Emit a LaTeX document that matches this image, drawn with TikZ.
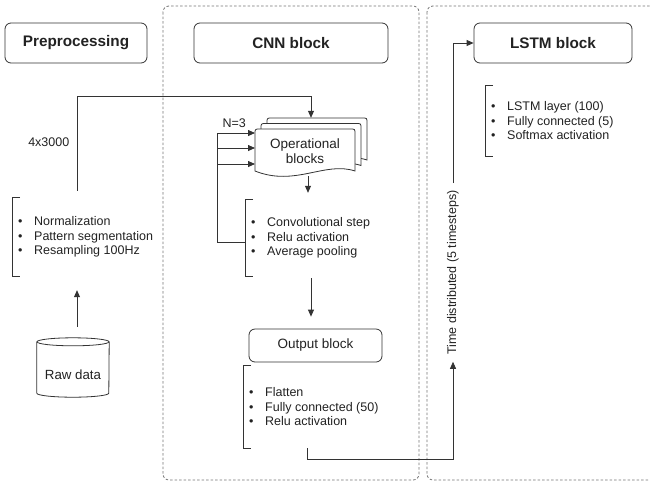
\documentclass[tikz,border=0pt]{standalone}
\usepackage{fontspec}
\setmainfont{Liberation Sans}
\usepackage{tikz}
\usetikzlibrary{arrows.meta,positioning,calc}
\definecolor{darkline}{RGB}{51,51,51}
\definecolor{groupgray}{RGB}{115,115,115}
\definecolor{inkgray}{RGB}{34,34,34}
\newcommand{\itm}[1]{\makebox[16pt][l]{\textbullet}#1}
\newcommand{\listbracket}[1]{\draw[darkline, line width=0.8pt] ([xshift=8pt]#1.north west) -- (#1.north west) -- (#1.south west) -- ([xshift=8pt]#1.south west);}

\begin{document}
\begin{tikzpicture}[x=1pt, y=-1pt,
        header/.style={rectangle, rounded corners=6pt, draw=darkline, line width=0.8pt, minimum height=40pt, text=inkgray, font=\fontsize{15.3}{18}\selectfont\bfseries},
        block/.style={rectangle, rounded corners=6pt, draw=darkline, line width=0.8pt, text=inkgray, font=\fontsize{13.5}{15}\selectfont},
        itemlist/.style={anchor=west, align=left, inner xsep=6pt, inner ysep=0pt, text=inkgray, font=\fontsize{12.5}{14.5}\selectfont},
        sheet/.style={draw=darkline, line width=0.8pt, fill=white},
        drum/.style={draw=darkline, line width=0.8pt},
        group/.style={draw=groupgray, dash pattern=on 2.5pt off 2pt, line width=0.8pt, rounded corners=6pt},
        lbl/.style={text=inkgray, font=\fontsize{12.5}{15}\selectfont},
        arrow/.style={-{Triangle[length=7pt,width=6pt]}, draw=darkline, line width=0.8pt}]

        \useasboundingbox (0,0) rectangle (650,483);

        % Groups
        \draw[group] (163,6) rectangle (419,480);
        \draw[group] (427,6) rectangle (672,480);

        % Nodes
        \node[header, minimum width=142] (pre) at (76,43) {Preprocessing};
        \node[header, minimum width=194] (cnn) at (291,43) {CNN block};
        \node[header, minimum width=158] (lstm) at (553,43) {LSTM block};

        \node[itemlist, minimum height=78] (prelist) at (12,237) {\itm{Normalization}\\\itm{Pattern segmentation}\\\itm{Resampling 100Hz}};
        \node[itemlist, minimum height=76] (cnnlist) at (245,238) {\itm{Convolutional step}\\\itm{Relu activation}\\\itm{Average pooling}};
        \node[itemlist, minimum height=82] (outlist) at (243,407) {\itm{Flatten}\\\itm{Fully connected (50)}\\\itm{Relu activation}};
        \node[itemlist, minimum height=71] (lstmlist) at (485,121) {\itm{LSTM layer (100)}\\\itm{Fully connected (5)}\\\itm{Softmax activation}};
        \listbracket{prelist}
        \listbracket{cnnlist}
        \listbracket{outlist}
        \listbracket{lstmlist}

        \node[lbl, font=\fontsize{13.3}{15}\selectfont, minimum width=72, minimum height=59, text height=24pt, text depth=0pt, inner sep=0pt] (raw) at (73,367.5) {Raw data};
        \draw[drum] ([yshift=-4pt]raw.north west) -- ([yshift=4pt]raw.south west) arc[start angle=180, end angle=360, x radius=36pt, y radius=4pt] -- ([yshift=-4pt]raw.north east);
        \draw[drum] ([yshift=-4pt]raw.north) ellipse [x radius=36pt, y radius=4pt];

        % stacked operational blocks
        \coordinate (opnw) at (255,129);
        \foreach \dx/\dy in {12/-11, 6/-5.5, 0/0}
            \draw[sheet, shift={($(opnw)+(\dx,\dy)$)}] (0,42) -- (0,5) .. controls (0,0) .. (5,0) -- (95,0) .. controls (100,0) .. (100,5) -- (100,42) .. controls (70,32) and (40,58) .. (0,42) -- cycle;
        \node[lbl, font=\fontsize{13.5}{15}\selectfont, align=center, minimum width=100, minimum height=44] (opblk) at ($(opnw)+(50,22)$) {Operational\\blocks};
        \coordinate (optop) at ($(opblk.north)+(6,-11)$);

        \node[block, minimum width=133, minimum height=33] (outblk) at (315.5,345.5) {Output block};
        \node[lbl, rotate=90, inner sep=7pt] (td) at (453,272.5) {Time distributed (5 timesteps)};

        % Connections
        \draw[arrow, shorten <=11pt, shorten >=14pt] ([xshift=4pt]raw.north) -- ([xshift=4pt]raw.north |- prelist.south);
        \coordinate (topturn) at (0,96);
        \draw[arrow, shorten <=7pt] ([xshift=4pt]raw.north |- prelist.north) -- node[lbl, pos=0.55, left=4pt]{4x3000} ([xshift=4pt]raw.north |- topturn) -| (optop);

        \coordinate (in1) at ($(opnw)+(0,4)$);
        \coordinate (in2) at ($(opnw)+(0,19)$);
        \coordinate (in3) at ($(opnw)+(0,35)$);
        \node[lbl, anchor=south east, inner sep=1pt] (nthree) at ($(in1)+(-8,-4)$) {N=3};
        \coordinate (loop) at ($(cnnlist.west)+(-28,4)$);
        \draw[darkline, line width=0.8pt] ([yshift=-4pt]cnnlist.west) -- (loop) -- (loop |- in1);
        \foreach \k in {1,2,3}
            \draw[arrow] (loop |- in\k) -- (in\k);

        \draw[arrow, shorten >=7pt] ([xshift=3pt,yshift=-3pt]opblk.south) -- ([xshift=3pt]opblk.south |- cnnlist.north);
        \draw[arrow, shorten <=2pt, shorten >=12pt] (optop |- cnnlist.south) -- (optop |- outblk.north);

        \draw[arrow] ([xshift=-6pt]outlist.south) -- ++(0,11) -| (td.west);
        \draw[arrow] (td.east) |- (lstm.west);

    \end{tikzpicture}
\end{document}
